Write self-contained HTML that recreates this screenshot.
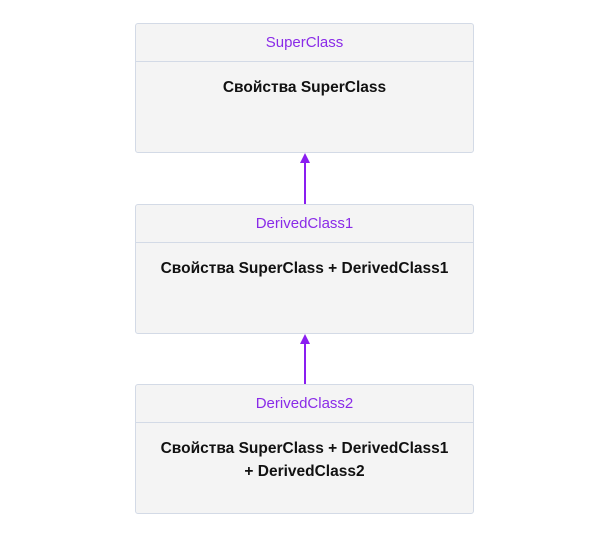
<!DOCTYPE html>
<html><head><meta charset="utf-8"><style>
html,body{margin:0;padding:0;background:#fff;width:600px;height:537px;overflow:hidden;font-family:"Liberation Sans",sans-serif}
.box{position:absolute;left:135px;width:337px;height:128px;background:#f4f4f4;border:1px solid #d3dae6;border-radius:3px}
.hd{height:37px;border-bottom:1px solid #d3dae6;color:#8a2be8;font-size:15px;text-align:center;line-height:38px}
.bd{text-align:center;font-weight:bold;font-size:15.5px;color:#111;line-height:23px;padding-top:14px}
</style></head><body>
<div class="box" style="top:23px"><div class="hd">SuperClass</div><div class="bd">Свойства SuperClass</div></div>
<div class="box" style="top:204px"><div class="hd">DerivedClass1</div><div class="bd">Свойства SuperClass + DerivedClass1</div></div>
<div class="box" style="top:384px"><div class="hd">DerivedClass2</div><div class="bd">Свойства SuperClass + DerivedClass1<br>+ DerivedClass2</div></div>
<svg width="600" height="537" style="position:absolute;left:0;top:0">
<g fill="#8a1ef0" stroke="#8a1ef0">
<line x1="305" y1="162" x2="305" y2="204" stroke-width="2"/>
<polygon points="305,153 300,163 310,163" stroke="none"/>
<line x1="305" y1="343" x2="305" y2="384" stroke-width="2"/>
<polygon points="305,334 300,344 310,344" stroke="none"/>
</g></svg>
</body></html>
